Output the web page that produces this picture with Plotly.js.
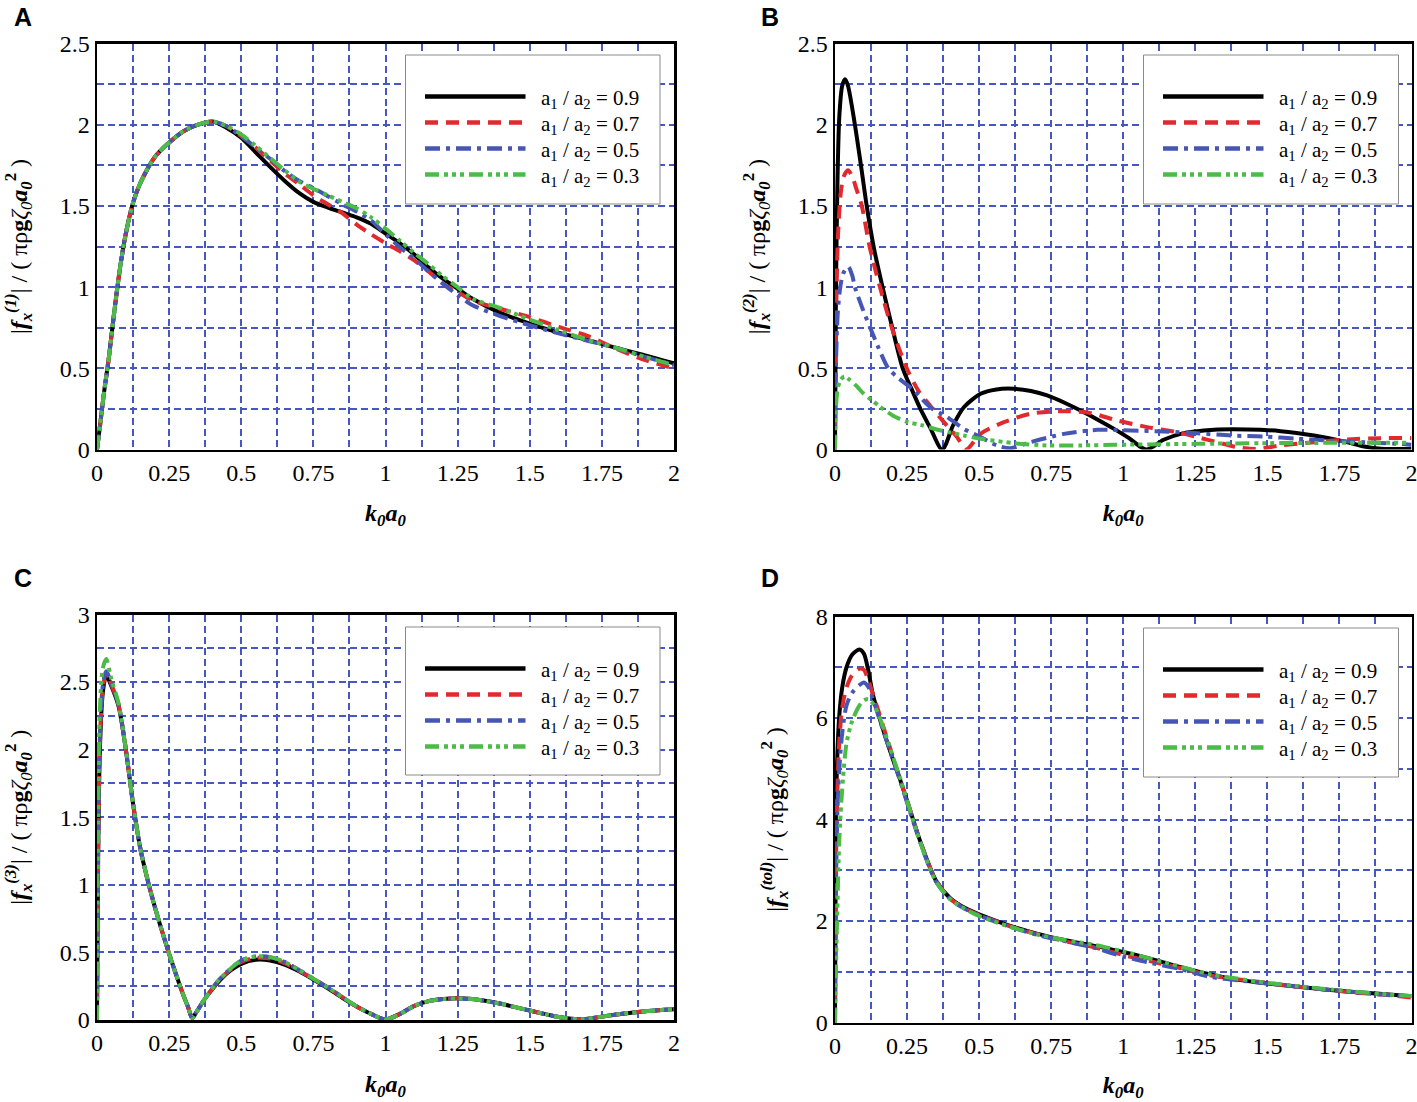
<!DOCTYPE html>
<html>
<head>
<meta charset="utf-8">
<script src="https://cdn.plot.ly/plotly-3.0.1.min.js"></script>
<style>html,body{margin:0;padding:0;background:#fff;}#chart{width:1417px;height:1102px;}</style>
</head>
<body>
<div id="chart"></div>
<script>
// ---------------- DATA ----------------
const seriesNames = ['a<sub>1</sub> / a<sub>2</sub> = 0.9', 'a<sub>1</sub> / a<sub>2</sub> = 0.7', 'a<sub>1</sub> / a<sub>2</sub> = 0.5', 'a<sub>1</sub> / a<sub>2</sub> = 0.3'];

// grid positions and their labels ('' = grid line without label)
const xTickVals = [0, 0.125, 0.25, 0.375, 0.5, 0.625, 0.75, 0.875, 1, 1.125, 1.25, 1.375, 1.5, 1.625, 1.75, 1.875, 2];
const xTickText = ['0', '', '0.25', '', '0.5', '', '0.75', '', '1', '', '1.25', '', '1.5', '', '1.75', '', '2'];
const yTickValsAB = [0, 0.25, 0.5, 0.75, 1, 1.25, 1.5, 1.75, 2, 2.25, 2.5];
const yTickTextAB = ['0', '', '0.5', '', '1', '', '1.5', '', '2', '', '2.5'];
const yTickValsC = [0, 0.25, 0.5, 0.75, 1, 1.25, 1.5, 1.75, 2, 2.25, 2.5, 2.75, 3];
const yTickTextC = ['0', '', '0.5', '', '1', '', '1.5', '', '2', '', '2.5', '', '3'];
const yTickValsD = [0, 1, 2, 3, 4, 5, 6, 7, 8];
const yTickTextD = ['0', '', '2', '', '4', '', '6', '', '8'];

// Panel A : |fx(1)|
const xA = [0, 0.01, 0.025, 0.04, 0.06, 0.08, 0.1, 0.125, 0.15, 0.2, 0.25, 0.3, 0.35, 0.4, 0.45, 0.5, 0.55, 0.6, 0.65, 0.7, 0.75, 0.8, 0.85, 0.9, 0.95, 1.0, 1.05, 1.1, 1.15, 1.2, 1.25, 1.3, 1.4, 1.5, 1.6, 1.7, 1.8, 1.9, 2.0];
const yA_09 = [0, 0.14, 0.36, 0.55, 0.85, 1.12, 1.33, 1.52, 1.64, 1.8, 1.89, 1.96, 2.0, 2.02, 1.98, 1.92, 1.83, 1.74, 1.655, 1.58, 1.525, 1.49, 1.46, 1.43, 1.39, 1.33, 1.27, 1.2, 1.12, 1.05, 0.99, 0.93, 0.84, 0.775, 0.72, 0.675, 0.625, 0.58, 0.53];
const yA_07 = [0, 0.14, 0.36, 0.55, 0.85, 1.12, 1.33, 1.52, 1.64, 1.8, 1.89, 1.96, 2.0, 2.02, 1.99, 1.93, 1.86, 1.78, 1.70, 1.635, 1.565, 1.51, 1.455, 1.385, 1.325, 1.27, 1.22, 1.165, 1.095, 1.02, 0.97, 0.92, 0.865, 0.815, 0.755, 0.70, 0.62, 0.55, 0.50];
const yA_05 = [0, 0.14, 0.36, 0.55, 0.85, 1.12, 1.33, 1.52, 1.64, 1.8, 1.89, 1.96, 2.0, 2.02, 1.99, 1.93, 1.86, 1.79, 1.715, 1.655, 1.61, 1.56, 1.51, 1.465, 1.41, 1.325, 1.245, 1.175, 1.095, 1.02, 0.95, 0.89, 0.82, 0.765, 0.715, 0.67, 0.625, 0.57, 0.52];
const yA_03 = [0, 0.14, 0.36, 0.55, 0.85, 1.12, 1.33, 1.52, 1.64, 1.8, 1.89, 1.96, 2.0, 2.02, 1.99, 1.94, 1.87, 1.795, 1.72, 1.65, 1.605, 1.565, 1.525, 1.485, 1.43, 1.36, 1.285, 1.21, 1.14, 1.065, 1.0, 0.93, 0.87, 0.80, 0.735, 0.675, 0.625, 0.57, 0.52];

// Panel B : |fx(2)|
const xB_09 = [0, 0.003, 0.008, 0.015, 0.025, 0.035, 0.045, 0.069, 0.09, 0.11, 0.135, 0.165, 0.2, 0.235, 0.265, 0.295, 0.33, 0.372, 0.41, 0.447, 0.505, 0.56, 0.62, 0.68, 0.736, 0.8, 0.852, 0.91, 0.968, 1.02, 1.08, 1.14, 1.2, 1.315, 1.43, 1.546, 1.662, 1.778, 1.836, 1.894, 2.0];
const yB_09 = [0, 0.9, 1.6, 2.05, 2.24, 2.28, 2.24, 2.0, 1.75, 1.5, 1.24, 1.0, 0.74, 0.5, 0.375, 0.255, 0.135, 0.0, 0.15, 0.26, 0.343, 0.37, 0.374, 0.36, 0.333, 0.285, 0.24, 0.185, 0.127, 0.07, 0.0, 0.06, 0.096, 0.121, 0.123, 0.113, 0.086, 0.045, 0.018, 0.004, 0.005];
const xB_07 = [0, 0.003, 0.01, 0.02, 0.03, 0.045, 0.06, 0.075, 0.093, 0.12, 0.156, 0.197, 0.249, 0.29, 0.33, 0.377, 0.424, 0.455, 0.505, 0.586, 0.678, 0.794, 0.887, 0.979, 1.083, 1.187, 1.257, 1.315, 1.396, 1.465, 1.546, 1.662, 1.778, 1.894, 2.0];
const yB_07 = [0, 0.7, 1.3, 1.58, 1.68, 1.72, 1.68, 1.6, 1.5, 1.25, 1.0, 0.75, 0.5, 0.36, 0.27, 0.17, 0.076, 0.0, 0.097, 0.168, 0.22, 0.236, 0.224, 0.179, 0.138, 0.107, 0.076, 0.05, 0.014, 0.003, 0.025, 0.045, 0.062, 0.07, 0.07];
const xB_05 = [0, 0.003, 0.01, 0.02, 0.03, 0.046, 0.06, 0.069, 0.095, 0.122, 0.15, 0.185, 0.22, 0.27, 0.331, 0.389, 0.447, 0.505, 0.562, 0.609, 0.678, 0.794, 0.91, 1.025, 1.141, 1.257, 1.373, 1.488, 1.604, 1.72, 1.836, 1.95, 2.0];
const yB_05 = [0, 0.5, 0.85, 1.02, 1.09, 1.125, 1.07, 1.0, 0.87, 0.75, 0.63, 0.5, 0.44, 0.37, 0.26, 0.2, 0.127, 0.076, 0.025, 0.008, 0.045, 0.096, 0.121, 0.117, 0.111, 0.1, 0.086, 0.08, 0.066, 0.055, 0.045, 0.035, 0.03];
const xB_03 = [0, 0.003, 0.01, 0.02, 0.033, 0.05, 0.075, 0.098, 0.123, 0.156, 0.2, 0.25, 0.3, 0.35, 0.4, 0.45, 0.505, 0.62, 0.736, 0.852, 0.968, 1.083, 1.257, 1.488, 1.72, 2.0];
const yB_03 = [0, 0.25, 0.38, 0.43, 0.45, 0.43, 0.39, 0.346, 0.31, 0.264, 0.21, 0.17, 0.15, 0.125, 0.105, 0.085, 0.066, 0.039, 0.025, 0.025, 0.029, 0.031, 0.035, 0.039, 0.041, 0.041];

// Panel C : |fx(3)|
const xC = [0, 0.004, 0.01, 0.02, 0.032, 0.05, 0.075, 0.1, 0.125, 0.15, 0.175, 0.2, 0.225, 0.25, 0.275, 0.3, 0.315, 0.33, 0.345, 0.375, 0.42, 0.45, 0.5, 0.55, 0.6, 0.65, 0.7, 0.75, 0.8, 0.85, 0.9, 0.95, 1.0, 1.05, 1.1, 1.15, 1.2, 1.25, 1.3, 1.35, 1.4, 1.45, 1.5, 1.55, 1.6, 1.68, 1.75, 1.8, 1.9, 2.0];
const yC_09 = [0, 1.2, 2.0, 2.42, 2.55, 2.47, 2.32, 2.0, 1.6, 1.27, 1.04, 0.84, 0.66, 0.49, 0.33, 0.18, 0.1, 0.015, 0.06, 0.16, 0.28, 0.345, 0.415, 0.445, 0.44, 0.41, 0.36, 0.3, 0.235, 0.165, 0.1, 0.045, 0.005, 0.045, 0.105, 0.14, 0.155, 0.16, 0.155, 0.14, 0.12, 0.095, 0.07, 0.045, 0.022, 0.005, 0.025, 0.04, 0.065, 0.08];
const yC_07 = [0, 1.25, 2.05, 2.45, 2.57, 2.48, 2.33, 2.0, 1.6, 1.27, 1.04, 0.84, 0.66, 0.49, 0.33, 0.18, 0.1, 0.015, 0.06, 0.16, 0.285, 0.35, 0.43, 0.46, 0.455, 0.42, 0.365, 0.305, 0.24, 0.17, 0.1, 0.045, 0.005, 0.045, 0.105, 0.14, 0.155, 0.16, 0.155, 0.14, 0.12, 0.095, 0.07, 0.045, 0.022, 0.005, 0.025, 0.04, 0.065, 0.08];
const yC_05 = [0, 1.3, 2.1, 2.47, 2.58, 2.49, 2.33, 2.0, 1.6, 1.27, 1.04, 0.84, 0.66, 0.49, 0.33, 0.18, 0.1, 0.015, 0.06, 0.16, 0.29, 0.355, 0.44, 0.47, 0.465, 0.43, 0.37, 0.305, 0.24, 0.17, 0.1, 0.045, 0.005, 0.045, 0.105, 0.14, 0.155, 0.16, 0.155, 0.14, 0.12, 0.095, 0.07, 0.045, 0.022, 0.005, 0.025, 0.04, 0.065, 0.08];
const yC_03 = [0, 1.5, 2.3, 2.6, 2.67, 2.52, 2.34, 2.0, 1.6, 1.27, 1.04, 0.84, 0.66, 0.49, 0.33, 0.18, 0.1, 0.015, 0.06, 0.16, 0.29, 0.355, 0.44, 0.47, 0.465, 0.43, 0.37, 0.305, 0.24, 0.17, 0.1, 0.045, 0.005, 0.045, 0.105, 0.14, 0.155, 0.16, 0.155, 0.14, 0.12, 0.095, 0.07, 0.045, 0.022, 0.005, 0.025, 0.04, 0.065, 0.08];

// Panel D : |fx(tol)|
const xD = [0, 0.003, 0.008, 0.015, 0.025, 0.04, 0.06, 0.085, 0.1, 0.115, 0.13, 0.15, 0.175, 0.2, 0.225, 0.25, 0.3, 0.35, 0.4, 0.45, 0.5, 0.6, 0.7, 0.8, 0.9, 1.0, 1.1, 1.2, 1.3, 1.4, 1.5, 1.6, 1.7, 1.8, 1.9, 2.0];
const yD_09 = [0, 4.0, 5.25, 6.05, 6.6, 7.0, 7.25, 7.35, 7.27, 6.95, 6.5, 6.08, 5.63, 5.2, 4.8, 4.37, 3.5, 2.8, 2.45, 2.26, 2.13, 1.92, 1.75, 1.62, 1.51, 1.39, 1.25, 1.09, 0.95, 0.84, 0.77, 0.71, 0.65, 0.6, 0.56, 0.515];
const yD_07 = [0, 3.0, 4.5, 5.55, 6.2, 6.6, 6.85, 6.97, 6.95, 6.75, 6.5, 6.15, 5.7, 5.25, 4.8, 4.37, 3.5, 2.8, 2.44, 2.25, 2.12, 1.91, 1.74, 1.6, 1.48, 1.33, 1.2, 1.07, 0.93, 0.85, 0.78, 0.71, 0.65, 0.59, 0.55, 0.49];
const yD_05 = [0, 2.5, 4.1, 5.0, 5.7, 6.25, 6.5, 6.65, 6.7, 6.62, 6.4, 6.05, 5.62, 5.2, 4.78, 4.33, 3.48, 2.78, 2.43, 2.24, 2.11, 1.9, 1.73, 1.6, 1.47, 1.3, 1.17, 1.05, 0.9, 0.83, 0.77, 0.71, 0.65, 0.6, 0.55, 0.52];
const yD_03 = [0, 1.0, 2.2, 3.6, 4.6, 5.5, 5.95, 6.25, 6.35, 6.37, 6.3, 6.08, 5.68, 5.25, 4.83, 4.37, 3.48, 2.78, 2.43, 2.24, 2.1, 1.9, 1.74, 1.62, 1.53, 1.4, 1.25, 1.1, 0.95, 0.86, 0.78, 0.72, 0.66, 0.61, 0.56, 0.52];

// ---------------- STYLE ----------------
const W = 1417, H = 1102;
const fx = p => p / W;
const fy = p => 1 - p / H;
const colors = ['#000000', '#e02a2e', '#4556b4', '#4cbb48'];
const dashes = ['solid', '13px,8px', '15px,6px,4px,6px', '14px,5px,4px,4px,4px,4px,4px,5px'];
const serif = 'Liberation Serif, Times New Roman, serif';
const gridCol = '#4656c2';

const panels = [
  {xs: [xA, xA, xA, xA], ys: [yA_09, yA_07, yA_05, yA_03], xa: 'x', ya: 'y'},
  {xs: [xB_09, xB_07, xB_05, xB_03], ys: [yB_09, yB_07, yB_05, yB_03], xa: 'x2', ya: 'y2'},
  {xs: [xC, xC, xC, xC], ys: [yC_09, yC_07, yC_05, yC_03], xa: 'x3', ya: 'y3'},
  {xs: [xD, xD, xD, xD], ys: [yD_09, yD_07, yD_05, yD_03], xa: 'x4', ya: 'y4'}
];

const traces = [];
panels.forEach(p => {
  for (let i = 0; i < 4; i++) {
    traces.push({
      type: 'scatter', mode: 'lines', name: seriesNames[i],
      x: p.xs[i], y: p.ys[i], xaxis: p.xa, yaxis: p.ya,
      line: {color: colors[i], width: 4, dash: dashes[i], shape: 'spline', smoothing: 0.8},
      showlegend: false
    });
  }
});

function xAxis(dom, anchor) {
  return {
    domain: dom, anchor: anchor, range: [0, 2],
    tickmode: 'array', tickvals: xTickVals, ticktext: xTickText,
    tickfont: {family: serif, size: 24, color: '#000'},
    ticks: '', ticklabeloverflow: 'allow',
    showline: true, mirror: true, linecolor: '#000', linewidth: 2.5,
    showgrid: true, gridcolor: gridCol, gridwidth: 2, griddash: '7px,4px',
    zeroline: false, fixedrange: true,
    title: {text: '<b><i>k<sub>0</sub>a<sub>0</sub></i></b>', font: {family: serif, size: 24, color: '#000'}, standoff: 20}
  };
}
function yAxis(dom, anchor, range, tv, tt, sup) {
  return {
    domain: dom, anchor: anchor, range: range,
    tickmode: 'array', tickvals: tv, ticktext: tt,
    tickfont: {family: serif, size: 24, color: '#000'},
    ticks: '', ticklabeloverflow: 'allow',
    showline: true, mirror: true, linecolor: '#000', linewidth: 2.5,
    showgrid: true, gridcolor: gridCol, gridwidth: 2, griddash: '7px,4px',
    zeroline: false, fixedrange: true,
    title: {
      text: '|<b><i>f</i></b><sub><b><i>x</i></b></sub><sup><b><i>(' + sup + ')</i></b></sup>| / ( πρ<b>g</b><i>ζ</i><sub><i>0</i></sub><b><i>a</i></b><sub><b><i>0</i></b></sub><sup><b>2</b></sup> )',
      font: {family: serif, size: 24, color: '#000'}, standoff: 26
    }
  };
}

const domXL = [fx(97), fx(674)], domXR = [fx(835), fx(1411.5)];
const domYT = [fy(449.5), fy(43.5)];
const domYC = [fy(1020), fy(614.5)];
const domYD = [fy(1022.5), fy(616.5)];

const shapes = [];
const annotations = [];

// panel letters
[['A', 23, 17], ['B', 770, 17], ['C', 23, 578], ['D', 770, 578]].forEach(l => {
  annotations.push({xref: 'paper', yref: 'paper', x: fx(l[1]), y: fy(l[2]), text: '<b>' + l[0] + '</b>', showarrow: false,
    xanchor: 'center', yanchor: 'middle', font: {family: 'Liberation Sans, Arial, sans-serif', size: 25, color: '#000'}});
});

// legends drawn as boxes with long line samples
const legendBoxes = [[405.5, 55, 660, 204], [1143.5, 55, 1398.5, 204], [405.5, 627, 660, 775], [1143.5, 628, 1398.5, 777]];
legendBoxes.forEach(b => {
  shapes.push({type: 'rect', xref: 'paper', yref: 'paper', x0: fx(b[0]), x1: fx(b[2]), y0: fy(b[3]), y1: fy(b[1]),
    line: {color: '#8a8a8a', width: 1}, fillcolor: '#ffffff', layer: 'above'});
  for (let i = 0; i < 4; i++) {
    const yy = b[1] + 41.5 + i * 26;
    shapes.push({type: 'line', xref: 'paper', yref: 'paper', x0: fx(b[0] + 19.5), x1: fx(b[0] + 120), y0: fy(yy), y1: fy(yy),
      line: {color: colors[i], width: 4.5, dash: dashes[i]}, layer: 'above'});
    annotations.push({xref: 'paper', yref: 'paper', x: fx(b[0] + 133), y: fy(yy + 2), text: seriesNames[i], showarrow: false,
      xanchor: 'left', yanchor: 'middle', font: {family: serif, size: 21, color: '#000'}});
  }
});

const layout = {
  width: W, height: H, margin: {l: 0, r: 0, t: 0, b: 0},
  paper_bgcolor: '#ffffff', plot_bgcolor: '#ffffff', showlegend: false,
  xaxis: xAxis(domXL, 'y'),
  yaxis: yAxis(domYT, 'x', [0, 2.5], yTickValsAB, yTickTextAB, '1'),
  xaxis2: xAxis(domXR, 'y2'),
  yaxis2: yAxis(domYT, 'x2', [0, 2.5], yTickValsAB, yTickTextAB, '2'),
  xaxis3: xAxis(domXL, 'y3'),
  yaxis3: yAxis(domYC, 'x3', [0, 3], yTickValsC, yTickTextC, '3'),
  xaxis4: xAxis(domXR, 'y4'),
  yaxis4: yAxis(domYD, 'x4', [0, 8], yTickValsD, yTickTextD, 'tol'),
  shapes: shapes, annotations: annotations
};

Plotly.newPlot('chart', traces, layout, {staticPlot: true, displayModeBar: false});
</script>
</body>
</html>
